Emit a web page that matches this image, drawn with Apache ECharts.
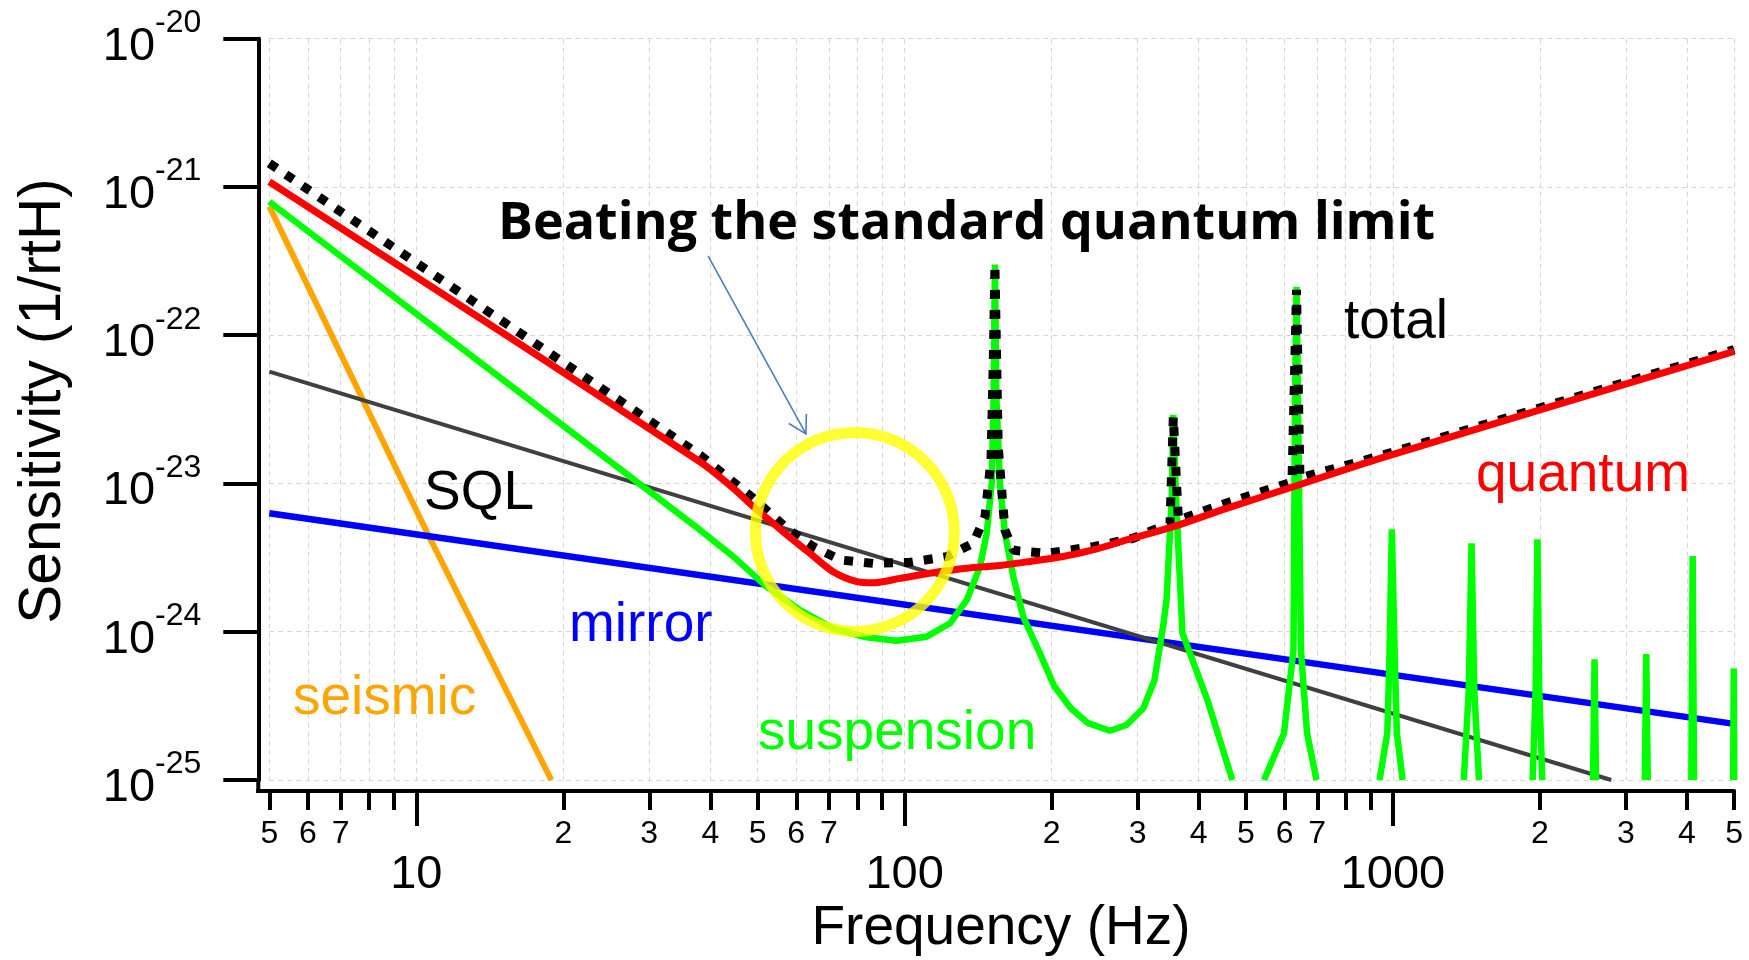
<!DOCTYPE html>
<html>
<head>
<meta charset="utf-8">
<title>Beating the standard quantum limit</title>
<script src="https://cdn.jsdelivr.net/npm/echarts@6.0.0/dist/echarts.min.js"></script>
<style>
  html, body { margin: 0; padding: 0; background: #ffffff; }
  #chart { width: 1749px; height: 960px; }
</style>
</head>
<body>
<div id="chart"></div>
<script>
// ---- axes ----
const xMin = 5, xMax = 5000;          // Hz
const yMin = 1e-25, yMax = 1e-20;     // 1/rtHz

const xMinorTicks = [5, 6, 7, 8, 9, 20, 30, 40, 50, 60, 70, 80, 90,
  200, 300, 400, 500, 600, 700, 800, 900, 2000, 3000, 4000, 5000];
const xDecadeTicks = [10, 100, 1000];
const xLabelValues = [5, 6, 7, 10, 20, 30, 40, 50, 60, 70, 100,
  200, 300, 400, 500, 600, 700, 1000, 2000, 3000, 4000, 5000];
const xLabelTexts = ['5', '6', '7', '10', '2', '3', '4', '5', '6', '7', '100',
  '2', '3', '4', '5', '6', '7', '1000', '2', '3', '4', '5'];
const yTickValues = [1e-25, 1e-24, 1e-23, 1e-22, 1e-21, 1e-20];
const yTickExponents = ['-25', '-24', '-23', '-22', '-21', '-20'];

// ---- noise curves: [frequency, amplitude] ----
const GAP = ['-', '-'];

const seismic = [[5, 7.4e-22], [10.6, 4.44e-24], [18.9, 1e-25]];

const sql = [[5, 5.68e-23], [2800, 1e-25]];

const mirror = [[5, 6.3e-24], [5000, 2.39e-25]];

const quantum = [
  [5, 1.085e-21], [38.1, 1.402e-23], [44.6, 9.28e-24], [49.0, 6.97e-24],
  [56.4, 4.73e-24], [64.0, 3.38e-24], [71.4, 2.54e-24], [79.8, 2.18e-24],
  [86.3, 2.14e-24], [97.9, 2.29e-24], [114.5, 2.50e-24], [134.1, 2.68e-24],
  [156.8, 2.80e-24], [180.6, 2.98e-24], [211.1, 3.22e-24], [246.6, 3.61e-24],
  [285.0, 4.16e-24], [355.1, 5.11e-24], [456.6, 6.80e-24], [625.2, 9.51e-24],
  [941, 1.478e-23], [5000, 7.78e-23]
];

const suspension = [
  [5, 7.95e-22], [38.1, 4.86e-24], [44.6, 3.21e-24],
  [52.2, 2.01e-24], [61.1, 1.40e-24], [71.4, 1.055e-24], [83.6, 9.17e-25],
  [96.3, 8.70e-25], [111.0, 9.26e-25], [123.9, 1.14e-24], [134.1, 1.64e-24],
  [142.7, 2.75e-24], [147.3, 4.61e-24], [150.8, 1.00e-23], [152.1, 3.66e-23],
  [153.1, 3.0e-22], [154.2, 3.66e-23], [156.8, 1.00e-23], [160.5, 4.61e-24],
  [167.0, 2.35e-24], [175.0, 1.26e-24], [189.3, 7.15e-25], [202.4, 4.31e-25],
  [219.0, 3.05e-25], [237.0, 2.43e-25], [263.1, 2.15e-25], [284.9, 2.35e-25],
  [308.2, 3.05e-25], [324.8, 4.70e-25], [338.8, 1.117e-24], [343.9, 1.64e-24],
  [348.4, 3.75e-24], [352.4, 8.14e-24], [355.1, 2.9e-23],
  [359.6, 8.14e-24], [363.5, 3.75e-24], [370.7, 9.80e-25], [417.0, 3.46e-25],
  [469, 1e-25],
  GAP,
  [544.5, 1e-25], [598.4, 2.07e-25], [625.8, 7.53e-25], [630.3, 3.66e-23],
  [634.8, 2.12e-22], [639.3, 3.66e-23], [648.3, 7.53e-25], [667.0, 2.07e-25],
  [697.5, 1e-25],
  GAP,
  [939, 1e-25], [974, 2.07e-25], [983, 5.8e-25], [995, 4.91e-24],
  [1010, 5.8e-25], [1019, 2.07e-25], [1047, 1e-25],
  GAP,
  [1397, 1e-25], [1430, 4e-25], [1449, 3.95e-24], [1468, 4e-25], [1501, 1e-25],
  GAP,
  [1933, 1e-25], [1960, 4e-25], [1977, 4.2e-24], [1994, 4e-25], [2023, 1e-25],
  GAP,
  [2570, 1e-25], [2588, 6.52e-25], [2606, 1e-25],
  GAP,
  [3280, 1e-25], [3303, 7.08e-25], [3326, 1e-25],
  GAP,
  [4085, 1e-25], [4111, 3.24e-24], [4137, 1e-25],
  GAP,
  [4975, 1e-25], [4990, 5.66e-25], [5000, 1e-25]
];

const total = [
  [5, 1.444e-21], [38.1, 1.556e-23], [43.2, 1.111e-23], [49.0, 7.94e-24],
  [57.4, 4.98e-24], [65.0, 3.75e-24], [73.8, 3.05e-24], [86.3, 2.89e-24],
  [102.6, 2.94e-24], [122.0, 3.21e-24], [138.2, 3.95e-24], [146.1, 5.97e-24],
  [150.3, 1.44e-23], [151.9, 6.47e-23], [153.1, 3.0e-22], [155.5, 1.77e-23],
  [160.5, 4.86e-24], [167.0, 3.56e-24], [172.3, 3.5e-24], [195.4, 3.38e-24],
  [243.5, 3.75e-24], [294.0, 4.27e-24], [349.6, 5.39e-24], [355.1, 2.82e-23],
  [363.6, 5.67e-24], [456.6, 7.39e-24], [621.4, 1.023e-23], [634.8, 2.02e-22],
  [645.2, 1.089e-23], [941, 1.532e-23], [5000, 8.01e-23]
];

// highlighted region below the SQL and the pointer towards it
const sqlRegion = [[79.1, 4.71e-24]];
const pointer = [[39.6, 3.42e-22, 62.8, 2.16e-23]];

// ---- styling ----
const FONT = 'Liberation Sans';
const GRID = { left: 269.3, right: 14.8, top: 38.7, bottom: 180 };
const AXIS_OFFSET = 11;
const gridLineStyle = { color: '#d6d6d6', width: 1, type: [5, 4] };

function xLabel(v) {
  const i = xLabelValues.findIndex(t => Math.abs(t - v) < 1e-6 * t);
  if (i < 0) return '';
  return xDecadeTicks.includes(xLabelValues[i])
    ? '{big|' + xLabelTexts[i] + '}'
    : '{small|' + xLabelTexts[i] + '}';
}
function yLabel(v) {
  const lv = Math.log10(v);
  const i = yTickValues.findIndex(t => Math.abs(Math.log10(t) - lv) < 1e-6);
  return i < 0 ? '' : '{b|10}{s|' + yTickExponents[i] + '}';
}

function lineSeries(name, data, color, width, z, extra) {
  return Object.assign({
    name, type: 'line', data, z,
    xAxisIndex: 0, yAxisIndex: 0,
    showSymbol: false, symbol: 'none', silent: true,
    clip: true, connectNulls: false,
    lineStyle: { color, width, cap: 'butt', join: 'bevel' },
    emphasis: { disabled: true }
  }, extra || {});
}

function label(id, text, x, y, color, size, extra) {
  return Object.assign({
    id, type: 'text', x, y, z: 20, silent: true,
    style: {
      text, fill: color, fontFamily: FONT, fontSize: size, fontWeight: 'normal',
      fontStyle: 'normal', align: 'left', verticalAlign: 'middle'
    }
  }, extra || {});
}

const option = {
  animation: false,
  backgroundColor: '#ffffff',
  grid: Object.assign({ containLabel: false, outerBoundsMode: 'none' }, GRID),
  xAxis: [
    {
      type: 'log', logBase: 10, min: xMin, max: xMax, position: 'bottom',
      offset: AXIS_OFFSET,
      axisLine: { show: true, onZero: false, lineStyle: { color: '#000', width: 4 } },
      axisTick: { show: true, inside: false, length: 19, customValues: xMinorTicks.concat(xDecadeTicks),
        lineStyle: { color: '#000', width: 4 } },
      minorTick: { show: false },
      axisLabel: {
        show: true, margin: 27, customValues: xLabelValues, formatter: xLabel,
        color: '#000',
        rich: {
          small: { fontFamily: FONT, fontSize: 32, lineHeight: 32, color: '#000' },
          big: { fontFamily: FONT, fontSize: 47, lineHeight: 114, color: '#000' }
        }
      },
      splitLine: { show: true, lineStyle: gridLineStyle },
      minorSplitLine: { show: false }
    },
    {
      type: 'log', logBase: 10, min: xMin, max: xMax, position: 'bottom',
      offset: AXIS_OFFSET,
      axisLine: { show: false, onZero: false },
      axisTick: { show: true, inside: false, length: 35, customValues: xDecadeTicks,
        lineStyle: { color: '#000', width: 4 } },
      axisLabel: { show: false },
      splitLine: { show: false }
    }
  ],
  yAxis: [
    {
      type: 'log', logBase: 10, min: yMin, max: yMax, position: 'left',
      offset: AXIS_OFFSET,
      axisLine: { show: true, onZero: false, lineStyle: { color: '#000', width: 4 } },
      axisTick: { show: true, inside: false, length: 35, customValues: yTickValues,
        lineStyle: { color: '#000', width: 4 } },
      axisLabel: {
        show: true, margin: 57, customValues: yTickValues, formatter: yLabel,
        color: '#000',
        rich: {
          b: { fontFamily: FONT, fontSize: 47, lineHeight: 63, verticalAlign: 'bottom', color: '#000' },
          s: { fontFamily: FONT, fontSize: 32, lineHeight: 32, verticalAlign: 'top', color: '#000' }
        }
      },
      splitLine: { show: true, lineStyle: gridLineStyle }
    }
  ],
  series: [
    lineSeries('seismic', seismic, '#FFA500', 6, 2),
    lineSeries('mirror', mirror, '#0000FF', 6.5, 3),
    lineSeries('SQL', sql, '#404040', 4, 4),
    lineSeries('suspension', suspension, '#00FF00', 6.5, 5),
    lineSeries('total', total, '#000000', 9, 6, {
      lineStyle: { color: '#000000', width: 9, type: [9, 11], cap: 'butt', join: 'bevel' }
    }),
    lineSeries('quantum', quantum, '#FF0000', 7, 7, { smooth: 0.3 }),
    {
      name: 'region', type: 'scatter', data: sqlRegion, z: 8, silent: true,
      symbol: 'circle', symbolSize: 199,
      itemStyle: { color: 'rgba(0,0,0,0)', borderColor: '#FFFF00', borderWidth: 11 },
      emphasis: { disabled: true }
    },
    {
      name: 'pointer', type: 'custom', data: pointer, z: 9, silent: true, clip: false,
      encode: { x: [0, 2], y: [1, 3] },
      renderItem: function (params, api) {
        const a = api.coord([api.value(0), api.value(1)]);
        const b = api.coord([api.value(2), api.value(3)]);
        const ang = Math.atan2(a[1] - b[1], a[0] - b[0]);
        const L = 20, w = Math.PI / 6;
        const h1 = [b[0] + L * Math.cos(ang - w), b[1] + L * Math.sin(ang - w)];
        const h2 = [b[0] + L * Math.cos(ang + w), b[1] + L * Math.sin(ang + w)];
        const st = { stroke: '#4A7EBB', lineWidth: 1.6, fill: null };
        return {
          type: 'group',
          children: [
            { type: 'line', shape: { x1: a[0], y1: a[1], x2: b[0], y2: b[1] }, style: st },
            { type: 'polyline', shape: { points: [h1, b, h2] }, style: st }
          ]
        };
      }
    }
  ],
  graphic: [
    label('lblTotal', 'total', 1344, 323, '#000000', 55),
    label('lblQuantum', 'quantum', 1476, 476, '#FF0000', 55),
    label('lblSql', 'SQL', 424, 494, '#000000', 55),
    label('lblMirror', 'mirror', 569, 626, '#0000FF', 55),
    label('lblSeismic', 'seismic', 293, 699, '#FFA500', 55),
    label('lblSuspension', 'suspension', 758, 734, '#00FF00', 55),
    label('xTitle', 'Frequency (Hz)', 1001, 929, '#000000', 55),
    label('yTitle', 'Sensitivity (1/rtH)', 44, 401, '#000000', 58.5, { rotation: Math.PI / 2 }),
    {
      id: 'heading', type: 'text', x: 498, y: 224.5, z: 30, silent: true,
      style: {
        text: 'Beating the standard quantum limit', fill: '#000',
        fontFamily: 'Open Sans', fontSize: 52, fontWeight: 'bold', fontStyle: 'normal',
        align: 'left', verticalAlign: 'middle'
      }
    }
  ]
};
// centred axis titles
option.graphic[6].style.align = 'center';
option.graphic[7].style.align = 'center';

const chart = echarts.init(document.getElementById('chart'), null, { renderer: 'canvas' });
chart.setOption(option);

// join the two offset axis lines at the lower-left corner
const corner = chart.convertToPixel({ gridIndex: 0 }, [xMin, yMin]);
const axX = corner[0] - AXIS_OFFSET;
const axY = corner[1] + AXIS_OFFSET;
chart.setOption({
  graphic: [
    { id: 'cornerV', type: 'line', z: 15, silent: true,
      shape: { x1: axX, y1: corner[1] - 1, x2: axX, y2: axY + 2 },
      style: { stroke: '#000', lineWidth: 4 } },
    { id: 'cornerH', type: 'line', z: 15, silent: true,
      shape: { x1: axX - 2, y1: axY, x2: corner[0] + 1, y2: axY },
      style: { stroke: '#000', lineWidth: 4 } }
  ]
});
</script>
</body>
</html>
